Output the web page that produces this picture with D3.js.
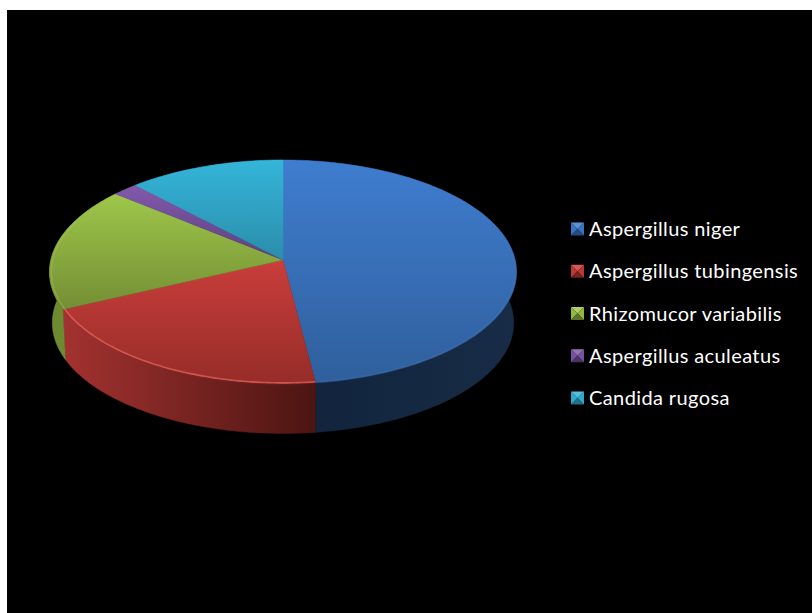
<!DOCTYPE html>
<meta charset="utf-8">
<style>
  html, body { margin: 0; background: #fff; overflow: hidden; }
  svg { display: block; }
</style>
<body>
  <div id="chart"></div>

  <script src="https://d3js.org/d3.v7.min.js"></script>
  <script>
  // ——— data ———
  const species = ["Aspergillus niger", "Aspergillus tubingensis", "Rhizomucor variabilis", "Aspergillus aculeatus", "Candida rugosa"];
  const shares  = [48, 20, 18, 2, 12];

  // colours: face top, face bottom, wall left, wall right, rim highlight
  const faceTop    = ["#3f7dcf", "#c93e3b", "#9ec74a", "#8259ab", "#34b5d9"];
  const faceBottom = ["#2f5f9c", "#962c28", "#748e34", "#5d4180", "#2b8dab"];
  const wallLeft   = ["#11233b", "#a33230", "#6f8b31", "#4a3366", "#1f6a80"];
  const wallRight  = ["#182c47", "#4c1512", "#6b8730", "#4a3366", "#1f6a80"];
  const rimLight   = ["#4f86c8", "#e2625c", "#a9c860", "#8f6db5", "#4cbfdd"];
  const rimOpacity = [0.12, 0.75, 0.35, 0, 0];

  const width = 812, height = 613;

  // ——— pie seen in perspective: apex sits above the centre of the ellipse ———
  const tilt = 0.107;
  const depth = 51;
  const lower = 0.988;
  const sx = d3.scaleLinear().domain([-1, 1]).range([283 - 232.2, 283 + 232.2]);
  const sy = d3.scaleLinear().domain([-1, 1]).range([260 - 110.7, 260 + 110.7]);

  function project(a, r = 1, drop = 0, k = 1) {
    const u = r * Math.sin(a), v = -r * Math.cos(a);
    const w = 1 - tilt * v;
    return [
      283 + (sx(u / w) - 283) * k,
      260 + (sy(v / w) - 260) * k + drop
    ];
  }
  const samples = (a0, a1) => {
    const n = Math.max(2, Math.ceil((a1 - a0) * 60));
    return d3.range(n + 1).map(i => a0 + (a1 - a0) * i / n);
  };

  const pie = d3.pie().sort(null).value(d => d);
  const arcs = pie(shares);
  const line = d3.line();

  const svg = d3.select("#chart").append("svg")
      .attr("width", width)
      .attr("height", height);

  svg.append("rect")
      .attr("x", 7).attr("y", 10)
      .attr("width", width - 7).attr("height", height - 10)
      .attr("fill", "#000");

  const defs = svg.append("defs");
  defs.append("filter").attr("id", "soft")
      .attr("x", "-5%").attr("y", "-5%").attr("width", "110%").attr("height", "110%")
    .append("feGaussianBlur").attr("stdDeviation", 0.7);

  arcs.forEach((d, i) => {
    const pts = samples(d.startAngle, d.endAngle).map(a => project(a));
    const outline = [project(0, 0), ...pts];
    const face = defs.append("linearGradient")
        .attr("id", `face${i}`)
        .attr("gradientUnits", "userSpaceOnUse")
        .attr("x1", 0).attr("x2", 0)
        .attr("y1", d3.min(outline, p => p[1]))
        .attr("y2", d3.max(outline, p => p[1]));
    face.append("stop").attr("offset", 0).attr("stop-color", faceTop[i]);
    face.append("stop").attr("offset", 1).attr("stop-color", faceBottom[i]);

    const wall = defs.append("linearGradient")
        .attr("id", `wall${i}`)
        .attr("gradientUnits", "userSpaceOnUse")
        .attr("y1", 0).attr("y2", 0)
        .attr("x1", d3.min(pts, p => p[0]))
        .attr("x2", i === 1 ? 315 : d3.max(pts, p => p[0]));
    wall.append("stop").attr("offset", 0).attr("stop-color", wallLeft[i]);
    wall.append("stop").attr("offset", 1).attr("stop-color", wallRight[i]);

    defs.append("clipPath").attr("id", `clip${i}`)
      .append("path").attr("d", line(outline) + "Z");
  });

  // ——— side walls first, the top face covers whatever faces away ———
  const walls = svg.append("g");
  arcs.forEach((d, i) => {
    const as = samples(d.startAngle, d.endAngle);
    const top = as.map(a => project(a));
    const bottom = as.map(a => project(a, 1, depth, lower)).reverse();
    walls.append("path")
        .attr("d", line([...top, ...bottom]) + "Z")
        .attr("fill", `url(#wall${i})`)
        .attr("stroke", `url(#wall${i})`)
        .attr("stroke-width", 0.4);
  });

  // ——— top face ———
  const faces = svg.append("g");
  arcs.forEach((d, i) => {
    const pts = samples(d.startAngle, d.endAngle).map(a => project(a));
    faces.append("path")
        .attr("d", line([project(0, 0), ...pts]) + "Z")
        .attr("fill", `url(#face${i})`)
        .attr("stroke", `url(#face${i})`)
        .attr("stroke-width", 0.4);
    // soft bevel, only on the part of the edge that faces the viewer
    const front = samples(d.startAngle, d.endAngle)
        .filter(a => a > Math.PI * 0.42 && a < Math.PI * 1.62)
        .map(a => project(a, 0.992));
    if (front.length > 1 && rimOpacity[i] > 0) {
      faces.append("g").attr("clip-path", `url(#clip${i})`)
        .append("path")
          .attr("d", line(front))
          .attr("fill", "none")
          .attr("stroke", rimLight[i])
          .attr("stroke-opacity", rimOpacity[i])
          .attr("stroke-width", 1.6)
          .attr("filter", "url(#soft)");
    }
  });

  // ——— legend ———
  const ly = d3.scalePoint().domain(species).range([229, 398]);
  const box = 13;
  const legend = svg.append("g").selectAll("g")
      .data(species)
      .join("g")
      .attr("transform", d => `translate(571,${ly(d)})`);

  const h = box / 2;
  const facets = [
    { p: [[-h, -h], [h, -h], [0, 0]], fill: (t, b) => d3.interpolateRgb(t, "#fff")(0.15) },
    { p: [[-h, -h], [-h, h], [0, 0]], fill: (t, b) => d3.interpolateRgb(t, b)(0.3) },
    { p: [[h, -h], [h, h], [0, 0]],   fill: (t, b) => d3.interpolateRgb(t, b)(0.3) },
    { p: [[-h, h], [h, h], [0, 0]],   fill: (t, b) => d3.interpolateRgb(b, "#000")(0.2) }
  ];
  legend.each(function(d, i) {
    const g = d3.select(this);
    facets.forEach(f => {
      g.append("path")
          .attr("transform", `translate(${h},0)`)
          .attr("d", line(f.p) + "Z")
          .attr("fill", f.fill(faceTop[i], faceBottom[i]));
    });
  });
  legend.append("text")
      .attr("x", 18)
      .attr("y", 7)
      .attr("font-family", "Lato, sans-serif")
      .attr("font-size", 20)
      .attr("letter-spacing", 0.39)
      .attr("fill", "#fff")
      .text(d => d);
  </script>
</body>
